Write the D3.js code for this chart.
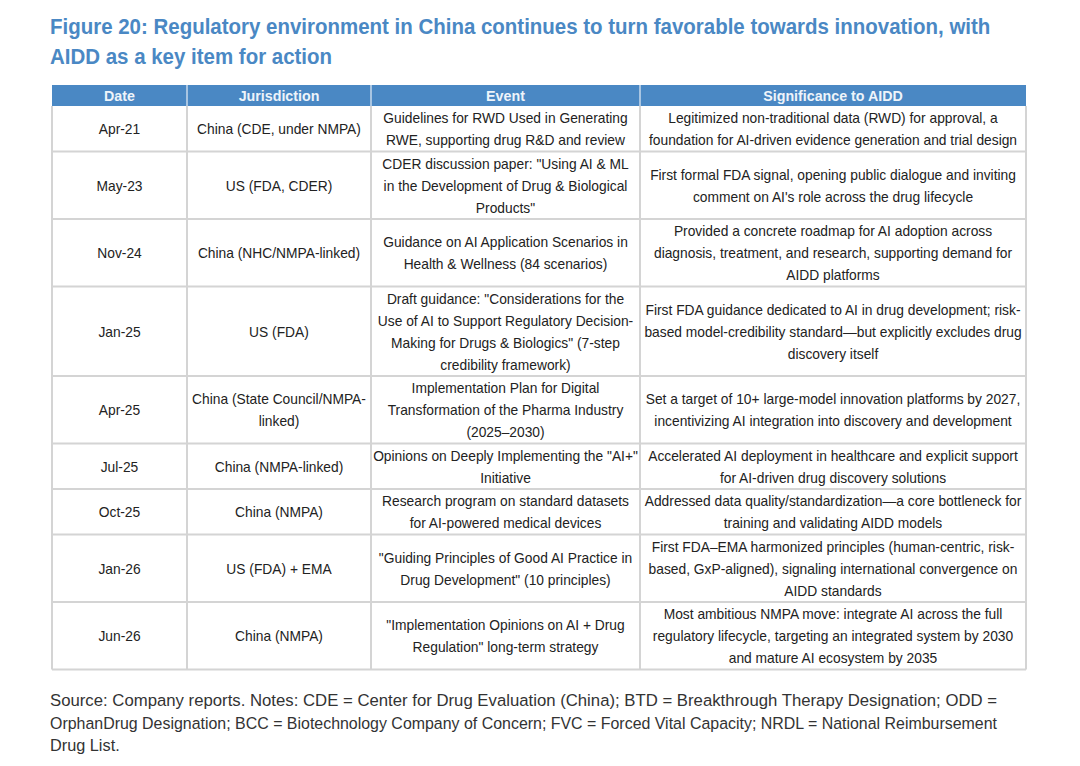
<!DOCTYPE html>
<html>
<head>
<meta charset="utf-8">
<script src="https://cdn.jsdelivr.net/npm/d3@7"></script>
<style>
  body { margin: 0; background: #ffffff; }
  text { font-family: "Liberation Sans", Arial, sans-serif; }
</style>
</head>
<body>
<div id="chart"></div>
<script>
/**
 * Data
 */
const titleLines = [
  "Figure 20: Regulatory environment in China continues to turn favorable towards innovation, with",
  "AIDD as a key item for action"
];

const headers = ["Date", "Jurisdiction", "Event", "Significance to AIDD"];

const dates = ["Apr-21", "May-23", "Nov-24", "Jan-25", "Apr-25", "Jul-25", "Oct-25", "Jan-26", "Jun-26"];

const jurisdictions = [
  ["China (CDE, under NMPA)"],
  ["US (FDA, CDER)"],
  ["China (NHC/NMPA-linked)"],
  ["US (FDA)"],
  ["China (State Council/NMPA-", "linked)"],
  ["China (NMPA-linked)"],
  ["China (NMPA)"],
  ["US (FDA) + EMA"],
  ["China (NMPA)"]
];

const events = [
  ["Guidelines for RWD Used in Generating", "RWE, supporting drug R&D and review"],
  ["CDER discussion paper: \"Using AI & ML", "in the Development of Drug & Biological", "Products\""],
  ["Guidance on AI Application Scenarios in", "Health & Wellness (84 scenarios)"],
  ["Draft guidance: \"Considerations for the", "Use of AI to Support Regulatory Decision-", "Making for Drugs & Biologics\" (7-step", "credibility framework)"],
  ["Implementation Plan for Digital", "Transformation of the Pharma Industry", "(2025\u20132030)"],
  ["Opinions on Deeply Implementing the \"AI+\"", "Initiative"],
  ["Research program on standard datasets", "for AI-powered medical devices"],
  ["\"Guiding Principles of Good AI Practice in", "Drug Development\" (10 principles)"],
  ["\"Implementation Opinions on AI + Drug", "Regulation\" long-term strategy"]
];

const significance = [
  ["Legitimized non-traditional data (RWD) for approval, a", "foundation for AI-driven evidence generation and trial design"],
  ["First formal FDA signal, opening public dialogue and inviting", "comment on AI's role across the drug lifecycle"],
  ["Provided a concrete roadmap for AI adoption across", "diagnosis, treatment, and research, supporting demand for", "AIDD platforms"],
  ["First FDA guidance dedicated to AI in drug development; risk-", "based model-credibility standard\u2014but explicitly excludes drug", "discovery itself"],
  ["Set a target of 10+ large-model innovation platforms by 2027,", "incentivizing AI integration into discovery and development"],
  ["Accelerated AI deployment in healthcare and explicit support", "for AI-driven drug discovery solutions"],
  ["Addressed data quality/standardization\u2014a core bottleneck for", "training and validating AIDD models"],
  ["First FDA\u2013EMA harmonized principles (human-centric, risk-", "based, GxP-aligned), signaling international convergence on", "AIDD standards"],
  ["Most ambitious NMPA move: integrate AI across the full", "regulatory lifecycle, targeting an integrated system by 2030", "and mature AI ecosystem by 2035"]
];

const footnoteLines = [
  "Source: Company reports. Notes: CDE = Center for Drug Evaluation (China); BTD = Breakthrough Therapy Designation; ODD =",
  "OrphanDrug Designation; BCC = Biotechnology Company of Concern; FVC = Forced Vital Capacity; NRDL = National Reimbursement",
  "Drug List."
];

/**
 * Layout
 */
const width = 1080;
const height = 766;
const colEdges = [52, 187, 371, 640, 1026];
const headerTop = 85;
const headerH = 21;
const lineH = 22;
const rowPad = 1.5;
const bodyFont = 15;
const squeeze = 0.92;
const footWidth = 947;

const blue = "#4a88c4";
const gridColor = "#d4d4d4";
const textColor = "#222222";

const rows = dates.map((d, i) => ({
  cells: [[d], jurisdictions[i], events[i], significance[i]]
}));
rows.forEach(r => {
  r.lines = d3.max(r.cells, c => c.length);
  r.h = r.lines * lineH + rowPad;
});
const rowTops = [headerTop + headerH];
rows.forEach((r, i) => rowTops.push(rowTops[i] + r.h));
rows.forEach((r, i) => { r.y = rowTops[i]; });

const x = d3.scaleOrdinal().domain(headers).range(colEdges.slice(0, 4));
const colW = h => colEdges[headers.indexOf(h) + 1] - x(h);

const svg = d3.select("#chart")
  .append("svg")
  .attr("width", width)
  .attr("height", height);

/**
 * Title
 */
svg.selectAll("text.title")
  .data(titleLines)
  .join("text")
  .attr("class", "title")
  .attr("transform", (d, i) => `translate(50, ${34 + i * 30}) scale(0.91,1)`)
  .attr("fill", "#4a88c4")
  .style("font-size", "22.5px")
  .style("font-weight", "bold")
  .text(d => d);

/**
 * Header
 */
svg.append("rect")
  .attr("x", colEdges[0])
  .attr("y", headerTop)
  .attr("width", colEdges[4] - colEdges[0])
  .attr("height", headerH)
  .attr("fill", blue);

svg.selectAll("text.head")
  .data(headers)
  .join("text")
  .attr("class", "head")
  .attr("transform", d => `translate(${x(d) + colW(d) / 2}, ${headerTop + headerH / 2 + 5.5}) scale(${squeeze},1)`)
  .attr("text-anchor", "middle")
  .attr("fill", "#eef4fa")
  .style("font-size", "15.5px")
  .style("font-weight", "bold")
  .text(d => d);

svg.selectAll("line.headsep")
  .data(colEdges.slice(1, 4))
  .join("line")
  .attr("class", "headsep")
  .attr("x1", d => d).attr("x2", d => d)
  .attr("y1", headerTop).attr("y2", headerTop + headerH)
  .attr("stroke", "#c9daec")
  .attr("stroke-width", 1.5);

/**
 * Body grid
 */
const tableBottom = rowTops[rowTops.length - 1];

svg.selectAll("line.hline")
  .data(rowTops.slice(1))
  .join("line")
  .attr("class", "hline")
  .attr("x1", colEdges[0]).attr("x2", colEdges[4])
  .attr("y1", d => d).attr("y2", d => d)
  .attr("stroke", gridColor)
  .attr("stroke-width", 2);

svg.selectAll("line.vline")
  .data(colEdges)
  .join("line")
  .attr("class", "vline")
  .attr("x1", d => d).attr("x2", d => d)
  .attr("y1", headerTop + headerH).attr("y2", tableBottom)
  .attr("stroke", gridColor)
  .attr("stroke-width", 2);

/**
 * Cell text
 */
const rowG = svg.selectAll("g.row")
  .data(rows)
  .join("g")
  .attr("class", "row")
  .attr("transform", d => `translate(0, ${d.y})`);

rowG.each(function(r) {
  const g = d3.select(this);
  r.cells.forEach((lines, ci) => {
    const cx = x(headers[ci]) + colW(headers[ci]) / 2;
    const top = r.h / 2 - (lines.length * lineH) / 2;
    g.selectAll(null)
      .data(lines)
      .join("text")
      .attr("transform", (d, li) => `translate(${cx}, ${top + li * lineH + lineH / 2 + 5.5}) scale(${squeeze},1)`)
      .attr("text-anchor", "middle")
      .attr("fill", textColor)
      .style("font-size", bodyFont + "px")
      .text(d => d);
  });
});

/**
 * Footnote (wrapped lines fill the paragraph width)
 */
svg.selectAll("text.foot")
  .data(footnoteLines)
  .join("text")
  .attr("class", "foot")
  .attr("x", 50)
  .attr("y", (d, i) => 706 + i * 22.5)
  .attr("fill", "#333333")
  .style("font-size", "16.3px")
  .each(function(d, i) {
    if (i < footnoteLines.length - 1) {
      d3.select(this)
        .attr("textLength", footWidth)
        .attr("lengthAdjust", "spacingAndGlyphs");
    }
  })
  .text(d => d);
</script>
</body>
</html>
